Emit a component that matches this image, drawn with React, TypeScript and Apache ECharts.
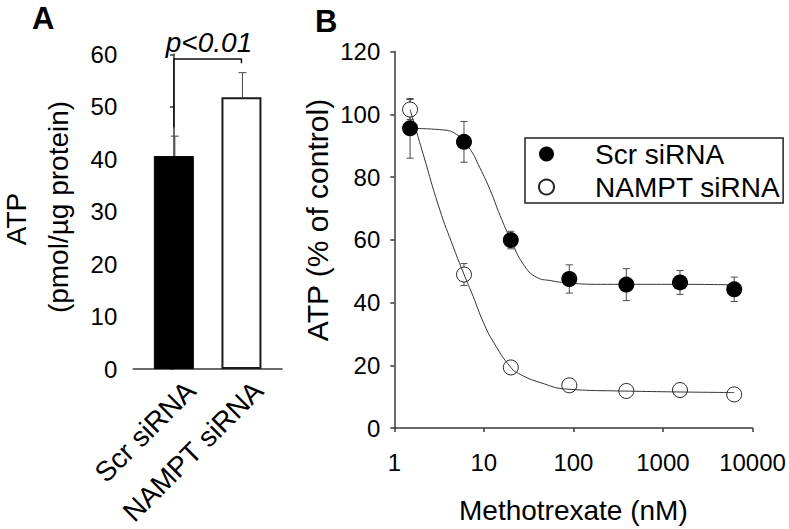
import React, { useEffect, useRef } from "react";
import * as echarts from "echarts";

// ---- Panel A data ----
const categories = ["Scr siRNA", "NAMPT siRNA"];
const atpMean = [40.6, 51.8];
const atpUpper = [44.4, 56.5];
const bracketX = [0, 0, 1, 1];
const bracketY = [46.1, 59.1, 59.1, 58.3];
const yTicksA = [0, 10, 20, 30, 40, 50, 60];

// ---- Panel B data ----
const doses = [1.5, 6, 20, 90, 390, 1550, 6250];
const scrMean = [95.5, 91.2, 59.9, 47.5, 45.7, 46.4, 44.2];
const scrErr = [9.5, 6.5, 2.8, 4.5, 5.1, 3.8, 3.9];
const namptMean = [101.5, 48.9, 19.3, 13.6, 11.8, 12.1, 10.7];
const namptErr = [3.2, 3.5, 1.0, 1.0, 1.0, 1.0, 1.0];
const scrFitX = [1.5, 3.2, 5, 7, 9, 11.7, 15.2, 20, 27.6, 39, 55, 90, 200, 1550, 6250];
const scrFitY = [95.5, 95.1, 93.5, 88.9, 83, 76, 67.7, 60, 52.2, 48, 47, 46.2, 45.8, 45.8, 45.6];
const namptFitX = [1.5, 2.1, 3.2, 4.6, 6, 7.6, 9.9, 12.8, 20, 25.4, 42.5, 84, 330, 6250];
const namptFitY = [101.5, 87.3, 69.8, 57.4, 49, 41.9, 33.6, 27.4, 19.3, 17.1, 14.5, 12.4, 11.8, 11.3];
const xTickLabelsB = ["1", "10", "100", "1000", "10000"];

const FONT = "Liberation Sans, Arial, Helvetica, sans-serif";
const AXIS_COLOR = "#3a3a3a";
const ERR_COLOR = "#4a4a4a";
const LABEL_SHIFT = 0.25; // category labels of panel A sit a little right of the bar centres

export default function App() {
  const ref = useRef<HTMLDivElement>(null);

  useEffect(() => {
    if (!ref.current) return;
    const chart = echarts.init(ref.current, null, { renderer: "svg" });

    const errRenderB = (params: any, api: any) => {
      const x = api.value(0);
      const lo = api.coord([x, api.value(1)]);
      const hi = api.coord([x, api.value(2)]);
      const w = 3.5;
      const st = { stroke: ERR_COLOR, lineWidth: 1 };
      return {
        type: "group",
        children: [
          { type: "line", shape: { x1: lo[0], y1: lo[1], x2: hi[0], y2: hi[1] }, style: st },
          { type: "line", shape: { x1: hi[0] - w, y1: hi[1], x2: hi[0] + w, y2: hi[1] }, style: st },
          { type: "line", shape: { x1: lo[0] - w, y1: lo[1], x2: lo[0] + w, y2: lo[1] }, style: st },
        ],
      };
    };

    const errRenderA = (params: any, api: any) => {
      const x = api.value(0);
      const lo = api.coord([x, api.value(1)]);
      const hi = api.coord([x, api.value(2)]);
      const w = 4;
      const st = { stroke: ERR_COLOR, lineWidth: 1 };
      return {
        type: "group",
        children: [
          { type: "line", shape: { x1: lo[0] + 1, y1: lo[1], x2: hi[0] + 1, y2: hi[1] }, style: st },
          { type: "line", shape: { x1: hi[0] + 1 - w, y1: hi[1], x2: hi[0] + 1 + w, y2: hi[1] }, style: st },
        ],
      };
    };

    const option: any = {
      animation: false,
      backgroundColor: "#fff",
      textStyle: { fontFamily: FONT, color: "#000" },
      grid: [
        { left: 133.3, top: 54.3, width: 148.7, height: 326, containLabel: false },
        { left: 394.3, top: 51.5, width: 358.2, height: 386.8, containLabel: false },
      ],
      legend: {
        data: ["Scr siRNA", "NAMPT siRNA"],
        orient: "vertical",
        left: 525,
        top: 138,
        itemWidth: 15,
        itemHeight: 15,
        itemGap: 3,
        padding: [1, 3, 1, 13],
        borderColor: "#222",
        borderWidth: 1.5,
        selectedMode: false,
        textStyle: { fontSize: 28, fontFamily: FONT, color: "#000", lineHeight: 30, padding: [0, 0, 0, 36] },
      },
      xAxis: [
        {
          gridIndex: 0,
          type: "value",
          min: -0.6,
          max: 1.6,
          splitLine: { show: false },
          axisLine: { show: true, lineStyle: { color: AXIS_COLOR, width: 1.5 } },
          axisTick: { show: false },
          axisLabel: {
            customValues: categories.map((c, i) => i + LABEL_SHIFT),
            formatter: (v: number) => categories[Math.round(v - LABEL_SHIFT)] ?? "",
            rotate: 45,
            fontSize: 28,
            color: "#000",
            fontFamily: FONT,
            margin: 17,
          },
        },
        {
          gridIndex: 1,
          type: "log",
          logBase: 10,
          min: 1,
          max: 10000,
          splitLine: { show: false },
          axisLine: { show: true, lineStyle: { color: AXIS_COLOR, width: 1.5 } },
          axisTick: { show: true, inside: false, length: 4, lineStyle: { color: AXIS_COLOR, width: 1.5 } },
          minorTick: { show: false },
          axisLabel: {
            fontSize: 24,
            color: "#000",
            fontFamily: FONT,
            margin: 22,
            formatter: (v: number) => xTickLabelsB[Math.round(Math.log10(v))] ?? "",
          },
          name: "Methotrexate (nM)",
          nameLocation: "middle",
          nameGap: 68,
          nameTextStyle: { fontSize: 28, color: "#000", fontFamily: FONT },
        },
      ],
      yAxis: [
        {
          gridIndex: 0,
          type: "value",
          min: yTicksA[0],
          max: yTicksA[yTicksA.length - 1],
          interval: 10,
          splitLine: { show: false },
          axisLine: { show: true, lineStyle: { color: AXIS_COLOR, width: 1.5 } },
          axisTick: { show: true, inside: false, length: 4, lineStyle: { color: AXIS_COLOR, width: 1.5 } },
          axisLabel: { fontSize: 24, color: "#000", fontFamily: FONT, margin: 16 },
        },
        {
          gridIndex: 1,
          type: "value",
          min: 0,
          max: 120,
          interval: 20,
          splitLine: { show: false },
          axisLine: { show: true, lineStyle: { color: AXIS_COLOR, width: 1.5 } },
          axisTick: { show: true, inside: false, length: 4, lineStyle: { color: AXIS_COLOR, width: 1.5 } },
          axisLabel: { fontSize: 24, color: "#000", fontFamily: FONT, margin: 14 },
        },
      ],
      series: [
        {
          type: "bar",
          xAxisIndex: 0,
          yAxisIndex: 0,
          barWidth: 40,
          data: atpMean.map((v, i) => ({
            value: [i, v],
            itemStyle:
              i === 0
                ? { color: "#000", borderColor: "#000", borderWidth: 1 }
                : { color: "#fff", borderColor: "#1a1a1a", borderWidth: 2 },
          })),
          z: 3,
        },
        {
          type: "custom",
          xAxisIndex: 0,
          yAxisIndex: 0,
          renderItem: errRenderA,
          encode: { x: 0, y: [1, 2] },
          data: atpMean.map((v, i) => [i, v, atpUpper[i]]),
          z: 2,
        },
        {
          type: "line",
          xAxisIndex: 0,
          yAxisIndex: 0,
          data: bracketX.map((x, i) => [x, bracketY[i]]),
          symbol: "none",
          lineStyle: { color: "#111", width: 1.5 },
          z: 4,
        },
        {
          type: "custom",
          name: "scrErr",
          xAxisIndex: 1,
          yAxisIndex: 1,
          renderItem: errRenderB,
          encode: { x: 0, y: [1, 2] },
          data: doses.map((d, i) => [d, scrMean[i] - scrErr[i], scrMean[i] + scrErr[i]]),
          z: 1,
        },
        {
          type: "custom",
          name: "namptErr",
          xAxisIndex: 1,
          yAxisIndex: 1,
          renderItem: errRenderB,
          encode: { x: 0, y: [1, 2] },
          data: doses.map((d, i) => [d, namptMean[i] - namptErr[i], namptMean[i] + namptErr[i]]),
          z: 1,
        },
        {
          type: "scatter",
          name: "NAMPT siRNA",
          xAxisIndex: 1,
          yAxisIndex: 1,
          symbol: "circle",
          symbolSize: 15,
          itemStyle: { color: "#fff", borderColor: "#222", borderWidth: 1, opacity: 1 },
          data: doses.map((d, i) => [d, namptMean[i]]),
          z: 2,
        },
        {
          type: "line",
          name: "Scr fit",
          xAxisIndex: 1,
          yAxisIndex: 1,
          smooth: 0.5,
          symbol: "none",
          lineStyle: { color: "#333", width: 1 },
          data: scrFitX.map((x, i) => [x, scrFitY[i]]),
          z: 3,
        },
        {
          type: "line",
          name: "NAMPT fit",
          xAxisIndex: 1,
          yAxisIndex: 1,
          smooth: 0.5,
          symbol: "none",
          lineStyle: { color: "#333", width: 1 },
          data: namptFitX.map((x, i) => [x, namptFitY[i]]),
          z: 3,
        },
        {
          type: "scatter",
          name: "Scr siRNA",
          xAxisIndex: 1,
          yAxisIndex: 1,
          symbol: "circle",
          symbolSize: 16,
          itemStyle: { color: "#000", opacity: 1 },
          data: doses.map((d, i) => [d, scrMean[i]]),
          z: 4,
        },
      ],
      graphic: [
        { type: "text", left: 32, top: 3, style: { text: "A", fontSize: 31, fontWeight: "bold", fontFamily: FONT, fill: "#000" } },
        { type: "text", left: 315, top: 6, style: { text: "B", fontSize: 31, fontWeight: "bold", fontFamily: FONT, fill: "#000" } },
        {
          type: "text",
          x: 209,
          y: 42,
          style: { text: "p<0.01", fontSize: 28, fontStyle: "italic", fontFamily: FONT, fill: "#000", align: "center", verticalAlign: "middle" },
        },
        {
          type: "text",
          x: 16,
          y: 219,
          rotation: Math.PI / 2,
          style: { text: "ATP", fontSize: 28, fontFamily: FONT, fill: "#000", align: "center", verticalAlign: "middle" },
        },
        {
          type: "text",
          x: 58,
          y: 207,
          rotation: Math.PI / 2,
          style: { text: "(pmol/\u00b5g protein)", fontSize: 28, fontFamily: FONT, fill: "#000", align: "center", verticalAlign: "middle" },
        },
        {
          type: "text",
          x: 317,
          y: 220,
          rotation: Math.PI / 2,
          style: { text: "ATP (% of control)", fontSize: 30, fontFamily: FONT, fill: "#000", align: "center", verticalAlign: "middle" },
        },
      ],
    };

    chart.setOption(option);
    return () => chart.dispose();
  }, []);

  return (
    <div
      ref={ref}
      style={{ position: "fixed", left: 0, top: 0, width: 789, height: 529, background: "#fff" }}
    />
  );
}
